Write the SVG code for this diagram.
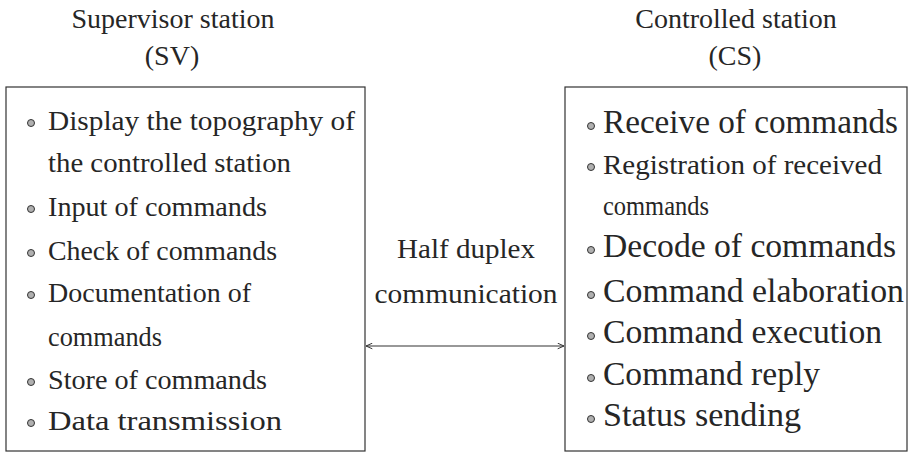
<svg xmlns="http://www.w3.org/2000/svg" width="912" height="459" viewBox="0 0 912 459" font-family="'Liberation Serif', 'DejaVu Serif', serif">
<defs>
<style>
text{font-family:'Liberation Serif','DejaVu Serif',serif;fill:#262626;}
.t{font-size:28px;text-anchor:middle;}
.l{font-size:28px;}
.r{font-size:33px;}
.box{fill:none;stroke:#333;stroke-width:1.2;}
.b{fill:#b0b0b0;stroke:#333;stroke-width:1;}
.conn{stroke:#333;stroke-width:1.2;fill:none;}
</style>
<marker id="ah" viewBox="0 0 10 10" refX="10" refY="5" markerWidth="7" markerHeight="7" orient="auto-start-reverse" markerUnits="userSpaceOnUse">
<path d="M1,1 L10,5 L1,9" fill="none" stroke="#333" stroke-width="1.4"/>
</marker>
</defs>
<rect width="912" height="459" fill="#fff"/>
<g id="sv">
<text class="t" x="173" y="28">Supervisor station</text>
<text class="t" x="172" y="65">(SV)</text>
<rect class="box" x="6" y="87" width="359" height="364"/>
<circle class="b" cx="31" cy="123" r="3.5"/><text class="l" x="48" y="130" textLength="307" lengthAdjust="spacingAndGlyphs">Display the topography of</text>
<text class="l" x="48" y="172" textLength="243" lengthAdjust="spacingAndGlyphs">the controlled station</text>
<circle class="b" cx="31" cy="209" r="3.5"/><text class="l" x="48" y="216" textLength="219" lengthAdjust="spacingAndGlyphs">Input of commands</text>
<circle class="b" cx="31" cy="253" r="3.5"/><text class="l" x="48" y="260" textLength="229" lengthAdjust="spacingAndGlyphs">Check of commands</text>
<circle class="b" cx="31" cy="295" r="3.5"/><text class="l" x="48" y="302" textLength="203" lengthAdjust="spacingAndGlyphs">Documentation of</text>
<text class="l" x="48" y="346" textLength="114" lengthAdjust="spacingAndGlyphs">commands</text>
<circle class="b" cx="31" cy="382" r="3.5"/><text class="l" x="48" y="389" textLength="219" lengthAdjust="spacingAndGlyphs">Store of commands</text>
<circle class="b" cx="31" cy="423" r="3.5"/><text class="l" x="48" y="430" textLength="234" lengthAdjust="spacingAndGlyphs">Data transmission</text>
</g>
<g id="cs">
<text class="t" x="736" y="28">Controlled station</text>
<text class="t" x="735" y="65">(CS)</text>
<rect class="box" x="565" y="87" width="342" height="364"/>
<circle class="b" cx="591" cy="126" r="3.5"/><text class="r" x="603" y="133" textLength="295" lengthAdjust="spacingAndGlyphs">Receive of commands</text>
<circle class="b" cx="591" cy="167" r="3.5"/><text class="l" x="603" y="174" textLength="279" lengthAdjust="spacingAndGlyphs">Registration of received</text>
<text class="l" x="603" y="215" textLength="106" lengthAdjust="spacingAndGlyphs">commands</text>
<circle class="b" cx="591" cy="250" r="3.5"/><text class="r" x="603" y="257" textLength="293" lengthAdjust="spacingAndGlyphs">Decode of commands</text>
<circle class="b" cx="591" cy="295" r="3.5"/><text class="r" x="603" y="302" textLength="301" lengthAdjust="spacingAndGlyphs">Command elaboration</text>
<circle class="b" cx="591" cy="336" r="3.5"/><text class="r" x="603" y="343" textLength="279" lengthAdjust="spacingAndGlyphs">Command execution</text>
<circle class="b" cx="591" cy="378" r="3.5"/><text class="r" x="603" y="385" textLength="217" lengthAdjust="spacingAndGlyphs">Command reply</text>
<circle class="b" cx="591" cy="419" r="3.5"/><text class="r" x="603" y="426" textLength="198" lengthAdjust="spacingAndGlyphs">Status sending</text>
</g>
<g id="connectors">
<line class="conn" x1="366" y1="346" x2="564" y2="346" marker-start="url(#ah)" marker-end="url(#ah)"/>
<text class="t" x="466" y="258" textLength="138" lengthAdjust="spacingAndGlyphs">Half duplex</text>
<text class="t" x="466" y="303" textLength="183" lengthAdjust="spacingAndGlyphs">communication</text>
</g>
</svg>
